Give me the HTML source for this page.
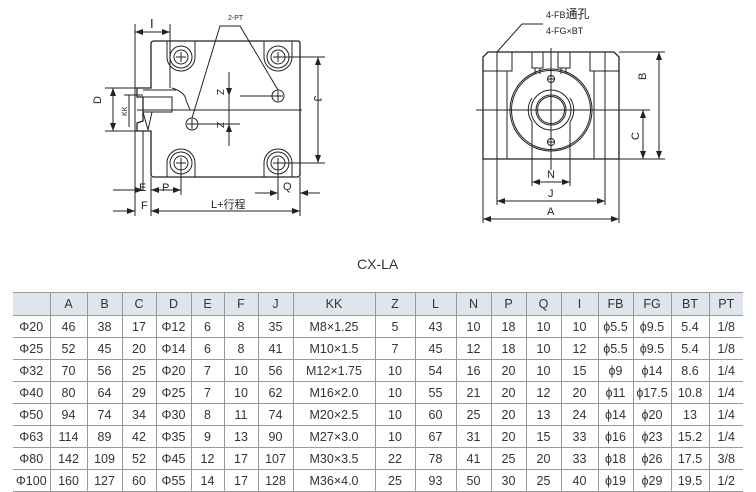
<!DOCTYPE html>
<html><head><meta charset="utf-8"><style>
body{margin:0;background:#fff;width:756px;height:490px;overflow:hidden;font-family:"Liberation Sans","Noto Sans CJK SC",sans-serif}
svg{position:absolute;left:0;top:0}
table{position:absolute;left:13px;top:292px;border-collapse:collapse;font-size:12.5px;color:#333;table-layout:fixed}
td{height:21px;border-bottom:1px solid #999;border-left:1px solid #999;text-align:center;padding:0;white-space:nowrap}
tr:first-child td{background:#dfe5ec;height:22px;border-top:1px solid #999}
td:first-child{border-left:none}
</style></head><body>
<svg width="756" height="290" viewBox="0 0 756 290" font-family="Liberation Sans, Noto Sans CJK SC, sans-serif" fill="none" stroke="#222" stroke-width="1">
<defs><marker id="a" markerWidth="8" markerHeight="6" refX="8" refY="3" orient="auto-start-reverse"><path d="M0,0L8,3L0,6z" fill="#222" stroke="none"/></marker></defs>
<!-- left view -->
<path d="M154,41H298Q300,41 300,44V174Q300,177 297,177H154Q151,177 151,174V131H137V123L143,121V97H137V88H151V44Q151,41 154,41z" stroke-width="1.3"/>
<line x1="170" y1="41" x2="170" y2="88"/>
<path d="M143,97H172V112H143z M172,88Q185,92 186,100L190,110"/>
<line x1="143" y1="90" x2="176" y2="90"/>
<path d="M143,112L148,130M152,112L148,130M151,131V139"/>
<g stroke-width="1">
<circle cx="181" cy="57" r="7"/><circle cx="181" cy="57" r="11"/>
<circle cx="278" cy="57" r="7"/><circle cx="278" cy="57" r="11"/>
<circle cx="181" cy="163" r="7"/><circle cx="181" cy="163" r="11"/>
<circle cx="278" cy="163" r="7"/><circle cx="278" cy="163" r="11"/>
<path d="M167,41V57A14,14 0 0 0 195,57V41M264,41V57A14,14 0 0 0 292,57V41M167,177V163A14,14 0 0 1 195,163V177M264,177V163A14,14 0 0 1 292,163V177"/>
<circle cx="278" cy="96" r="6"/><circle cx="192" cy="124" r="6"/>
<path d="M176,57h10M181,52v10M273,57h10M278,52v10M176,163h10M181,158v10M273,163h10M278,158v10M273,96h10M278,91v10M187,124h10M192,119v10"/>
</g>
<line x1="137" y1="110" x2="302" y2="110"/>
<line x1="135" y1="24" x2="135" y2="216"/><line x1="170" y1="24" x2="170" y2="41"/>
<line x1="135" y1="32" x2="170" y2="32" marker-start="url(#a)" marker-end="url(#a)"/>
<line x1="143" y1="131" x2="143" y2="190"/><line x1="151" y1="177" x2="151" y2="216"/><line x1="181" y1="163" x2="181" y2="195"/>
<line x1="300" y1="177" x2="300" y2="216"/><line x1="278" y1="163" x2="278" y2="200"/>
<line x1="278" y1="57" x2="325" y2="57"/><line x1="278" y1="163" x2="325" y2="163"/><line x1="278" y1="96" x2="240" y2="96"/><line x1="192" y1="124" x2="240" y2="124"/>
<line x1="318" y1="57" x2="318" y2="163" marker-start="url(#a)" marker-end="url(#a)"/>
<line x1="105" y1="88" x2="137" y2="88"/><line x1="105" y1="131" x2="137" y2="131"/>
<line x1="113" y1="88" x2="113" y2="131" marker-start="url(#a)" marker-end="url(#a)"/>
<line x1="124" y1="95" x2="143" y2="95"/><line x1="129" y1="95" x2="129" y2="127"/>
<line x1="229" y1="72" x2="229" y2="96" marker-end="url(#a)"/><line x1="229" y1="96" x2="229" y2="110"/>
<line x1="229" y1="110" x2="229" y2="124"/><line x1="229" y1="146" x2="229" y2="124" marker-end="url(#a)"/>
<line x1="113" y1="190" x2="143" y2="190" marker-end="url(#a)"/><line x1="151" y1="190" x2="181" y2="190" marker-start="url(#a)" marker-end="url(#a)"/>
<line x1="113" y1="211" x2="135" y2="211" marker-end="url(#a)"/><line x1="151" y1="211" x2="300" y2="211" marker-start="url(#a)" marker-end="url(#a)"/>
<line x1="255" y1="193" x2="278" y2="193" marker-end="url(#a)"/><line x1="320" y1="193" x2="300" y2="193" marker-end="url(#a)"/>
<path d="M192,118L220,26H240L278,90"/>
<g fill="#222" stroke="none" font-size="11">
<text x="150" y="28" font-size="13">I</text>
<text x="228" y="20" font-size="7">2-PT</text>
<text x="139" y="191">E</text><text x="162" y="191">P</text>
<text x="141" y="209">F</text><text x="211" y="208">L+行程</text>
<text x="283" y="190">Q</text>
<text transform="translate(314,96) rotate(90)">J</text>
<text transform="translate(101,104) rotate(-90)">D</text>
<text transform="translate(127,116) rotate(-90)" font-size="7">KK</text>
<text transform="translate(217,89) rotate(90)" font-size="10">Z</text>
<text transform="translate(217,122) rotate(90)" font-size="10">Z</text>
</g>
<!-- right view -->
<path d="M483,159V57L488,52H614L619,57V159z" stroke-width="1.3"/>
<path d="M483,71H512V52M619,71H590V52"/>
<path d="M497,52V159M507,71V159M605,52V159M594,71V159"/>
<path d="M532,52V68H543V52M535,68V74M540,68V74M558,52V68H570V52M561,68V74M566,68V74"/>
<circle cx="551" cy="110" r="41"/><circle cx="551" cy="110" r="39.5"/>
<path d="M532,159V122A21,21 0 0 1 532,98M570,159V122A21,21 0 0 0 570,98"/>
<circle cx="551" cy="110" r="20"/><circle cx="551" cy="110" r="15"/><circle cx="551" cy="110" r="13.5"/>
<circle cx="551" cy="79" r="3.5"/><circle cx="551" cy="142" r="3.5"/>
<path d="M547,79h8M547,142h8"/>
<line x1="551" y1="48" x2="551" y2="170"/><line x1="476" y1="110" x2="650" y2="110"/>
<line x1="619" y1="52" x2="665" y2="52"/><line x1="619" y1="159" x2="665" y2="159"/>
<line x1="659" y1="52" x2="659" y2="159" marker-start="url(#a)" marker-end="url(#a)"/>
<line x1="643" y1="110" x2="643" y2="159" marker-start="url(#a)" marker-end="url(#a)"/>
<path d="M532,159V186M570,159V186M497,159V205M605,159V205M483,159V223M619,159V223"/>
<line x1="532" y1="182" x2="570" y2="182" marker-start="url(#a)" marker-end="url(#a)"/>
<line x1="497" y1="201" x2="605" y2="201" marker-start="url(#a)" marker-end="url(#a)"/>
<line x1="483" y1="219" x2="619" y2="219" marker-start="url(#a)" marker-end="url(#a)"/>
<path d="M497,52L522,24H543"/>
<g fill="#222" stroke="none" font-size="11">
<text x="547" y="178">N</text><text x="548" y="197">J</text><text x="547" y="215">A</text>
<text transform="translate(646,80) rotate(-90)">B</text>
<text transform="translate(639,140) rotate(-90)">C</text>
<text x="546" y="18" font-size="9">4-FB<tspan font-size="12">通孔</tspan></text>
<text x="546" y="34" font-size="9">4-FG×BT</text>
</g>
<text x="357" y="269" fill="#333" stroke="none" font-size="14">CX-LA</text>
</svg>
<table>
<colgroup><col style="width:37px"><col style="width:37px"><col style="width:35px"><col style="width:34px"><col style="width:35px"><col style="width:33px"><col style="width:34px"><col style="width:35px"><col style="width:82px"><col style="width:40px"><col style="width:41px"><col style="width:35px"><col style="width:35px"><col style="width:35px"><col style="width:37px"><col style="width:35px"><col style="width:38px"><col style="width:38px"><col style="width:34px"></colgroup>
<tr><td></td><td>A</td><td>B</td><td>C</td><td>D</td><td>E</td><td>F</td><td>J</td><td>KK</td><td>Z</td><td>L</td><td>N</td><td>P</td><td>Q</td><td>I</td><td>FB</td><td>FG</td><td>BT</td><td>PT</td></tr>
<tr><td>Φ20</td><td>46</td><td>38</td><td>17</td><td>Φ12</td><td>6</td><td>8</td><td>35</td><td>M8×1.25</td><td>5</td><td>43</td><td>10</td><td>18</td><td>10</td><td>10</td><td>ϕ5.5</td><td>ϕ9.5</td><td>5.4</td><td>1/8</td></tr>
<tr><td>Φ25</td><td>52</td><td>45</td><td>20</td><td>Φ14</td><td>6</td><td>8</td><td>41</td><td>M10×1.5</td><td>7</td><td>45</td><td>12</td><td>18</td><td>10</td><td>12</td><td>ϕ5.5</td><td>ϕ9.5</td><td>5.4</td><td>1/8</td></tr>
<tr><td>Φ32</td><td>70</td><td>56</td><td>25</td><td>Φ20</td><td>7</td><td>10</td><td>56</td><td>M12×1.75</td><td>10</td><td>54</td><td>16</td><td>20</td><td>10</td><td>15</td><td>ϕ9</td><td>ϕ14</td><td>8.6</td><td>1/4</td></tr>
<tr><td>Φ40</td><td>80</td><td>64</td><td>29</td><td>Φ25</td><td>7</td><td>10</td><td>62</td><td>M16×2.0</td><td>10</td><td>55</td><td>21</td><td>20</td><td>12</td><td>20</td><td>ϕ11</td><td>ϕ17.5</td><td>10.8</td><td>1/4</td></tr>
<tr><td>Φ50</td><td>94</td><td>74</td><td>34</td><td>Φ30</td><td>8</td><td>11</td><td>74</td><td>M20×2.5</td><td>10</td><td>60</td><td>25</td><td>20</td><td>13</td><td>24</td><td>ϕ14</td><td>ϕ20</td><td>13</td><td>1/4</td></tr>
<tr><td>Φ63</td><td>114</td><td>89</td><td>42</td><td>Φ35</td><td>9</td><td>13</td><td>90</td><td>M27×3.0</td><td>10</td><td>67</td><td>31</td><td>20</td><td>15</td><td>33</td><td>ϕ16</td><td>ϕ23</td><td>15.2</td><td>1/4</td></tr>
<tr><td>Φ80</td><td>142</td><td>109</td><td>52</td><td>Φ45</td><td>12</td><td>17</td><td>107</td><td>M30×3.5</td><td>22</td><td>78</td><td>41</td><td>25</td><td>20</td><td>33</td><td>ϕ18</td><td>ϕ26</td><td>17.5</td><td>3/8</td></tr>
<tr><td>Φ100</td><td>160</td><td>127</td><td>60</td><td>Φ55</td><td>14</td><td>17</td><td>128</td><td>M36×4.0</td><td>25</td><td>93</td><td>50</td><td>30</td><td>25</td><td>40</td><td>ϕ19</td><td>ϕ29</td><td>19.5</td><td>1/2</td></tr>
</table>
</body></html>
